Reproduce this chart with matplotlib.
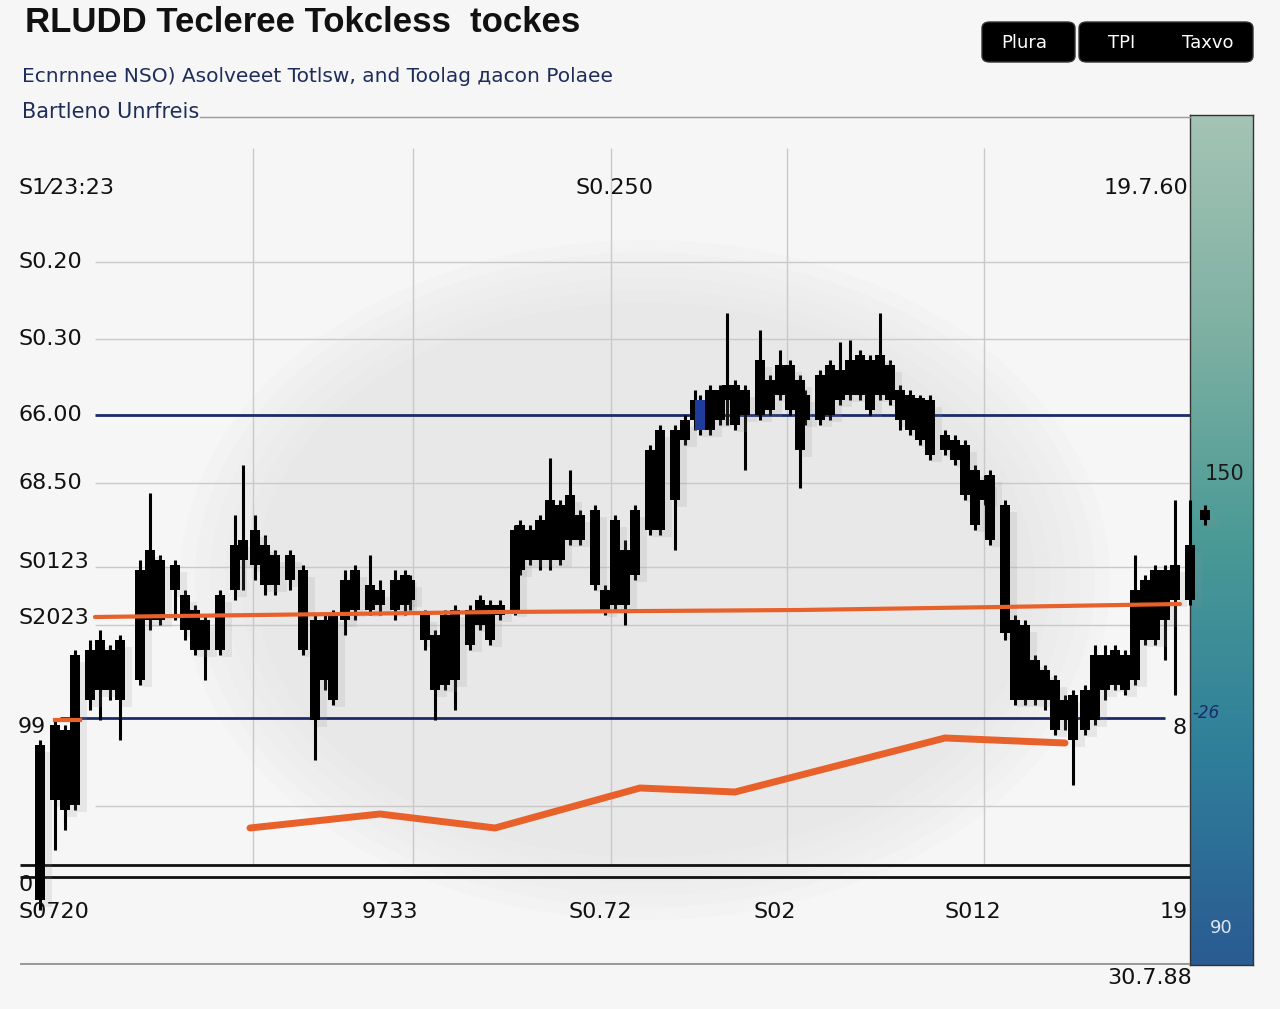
import matplotlib

matplotlib.use("Agg")

import matplotlib.pyplot as plt
import matplotlib.patheffects as pe
import numpy as np
from matplotlib.patches import Ellipse, FancyBboxPatch

# candle data: time, open, close, high, low
t = [4.0, 5.5, 6.5, 7.5, 9.0, 10.0, 11.0, 12.0, 14.0, 15.0, 16.0, 17.5, 18.5, 19.5, 20.5,
     22.0, 23.5, 24.3, 25.5, 26.5, 27.5, 29.0, 30.3, 31.5, 32.5, 33.3, 34.5, 35.5, 37.0, 38.0,
     39.5, 40.5, 41.0, 42.5, 43.5, 44.5, 45.5, 47.0, 48.0, 49.0, 50.0, 51.5, 52.0, 53.0, 54.0,
     55.0, 56.0, 57.0, 58.0, 59.5, 60.5, 61.5, 62.5, 63.5, 65.0, 66.0, 67.5, 68.5, 69.5, 70.0,
     71.0, 72.0, 72.7, 73.5, 74.5, 76.0, 77.0, 78.0, 79.0, 80.0, 80.5, 82.0, 83.0, 84.0, 85.0,
     86.0, 87.0, 88.0, 89.0, 90.0, 91.0, 92.0, 93.0, 94.5, 95.5, 96.5, 97.5, 98.5, 99.0, 100.5,
     101.5, 102.5, 103.5, 104.5, 105.5, 106.5, 107.3, 108.5, 109.5, 110.5, 111.5, 112.5, 113.5,
     114.5, 115.5, 116.5, 117.5, 119.0, 120.5]
o = [25.5, 27.5, 27.0, 19.5, 30.0, 31.0, 31.0, 30.0, 32.0, 38.0, 38.0, 41.0, 40.5, 39.0, 38.0,
     35.0, 41.0, 44.0, 47.0, 45.5, 44.5, 44.5, 43.0, 38.0, 38.0, 38.5, 38.0, 39.0, 41.5, 41.0,
     39.0, 42.5, 40.0, 38.5, 36.5, 31.5, 32.0, 39.0, 37.5, 39.5, 38.5, 39.0, 43.0, 44.0, 44.0,
     44.0, 49.5, 46.0, 48.5, 49.0, 41.0, 39.5, 39.5, 42.5, 47.0, 47.0, 50.0, 56.0, 58.0, 57.0,
     61.0, 58.0, 60.0, 61.5, 61.0, 58.5, 62.0, 60.5, 63.5, 62.0, 60.5, 58.0, 58.5, 60.0, 64.0,
     60.5, 64.0, 60.5, 63.5, 61.0, 60.5, 60.2, 60.0, 56.5, 56.0, 55.5, 53.0, 52.0, 52.5, 49.5,
     38.0, 37.5, 34.0, 33.0, 32.0, 30.0, 30.5, 27.0, 28.0, 31.0, 31.5, 34.5, 32.0,
     36.0, 36.0, 38.0, 40.0, 40.0, 48.0]
c = [10.0, 20.0, 19.0, 34.5, 35.0, 36.0, 35.0, 36.0, 43.0, 45.0, 44.0, 43.5, 37.0, 35.0, 35.0,
     40.5, 45.5, 46.0, 43.5, 41.5, 41.5, 42.0, 35.0, 28.0, 32.0, 30.0, 42.0, 43.0, 39.0, 39.5,
     42.0, 39.5, 42.0, 36.0, 31.0, 38.5, 39.0, 35.5, 40.0, 36.0, 39.5, 47.0, 47.5, 47.0, 48.0,
     50.0, 44.0, 50.5, 46.0, 41.5, 39.0, 48.0, 45.0, 49.0, 55.0, 57.0, 57.0, 58.0, 60.0, 60.0,
     57.0, 61.0, 61.5, 57.5, 58.5, 64.0, 59.0, 63.5, 59.0, 55.0, 58.0, 62.5, 63.5, 63.0, 60.5,
     64.5, 59.0, 64.5, 60.0, 58.0, 57.0, 56.0, 54.5, 55.0, 54.0, 50.5, 47.5, 50.0, 46.0, 36.7,
     30.0, 30.0, 30.0, 30.0, 27.0, 28.0, 26.0, 31.0, 34.5, 34.5, 35.0, 31.0, 41.0,
     42.0, 43.0, 43.0, 43.5, 45.5, 49.0]
h = [26.0, 28.0, 27.5, 35.0, 36.0, 37.0, 35.5, 36.5, 44.0, 50.7, 44.5, 44.0, 41.0, 39.5, 38.5,
     41.0, 48.5, 53.5, 48.5, 46.5, 45.0, 45.0, 43.5, 38.5, 38.5, 39.0, 43.0, 43.5, 44.5, 42.0,
     43.0, 43.0, 42.5, 39.0, 37.0, 39.0, 39.5, 39.5, 40.5, 40.0, 40.0, 47.5, 48.0, 47.5, 48.5,
     54.2, 50.0, 53.0, 49.0, 49.5, 41.5, 48.5, 46.0, 49.5, 55.5, 57.5, 57.5, 58.5, 61.0, 60.5,
     61.5, 61.5, 68.7, 62.0, 61.5, 67.0, 62.5, 65.0, 64.0, 62.5, 61.0, 63.0, 64.0, 65.8, 66.0,
     65.0, 64.5, 68.7, 64.0, 61.5, 61.0, 60.5, 60.5, 57.0, 56.5, 56.0, 53.5, 52.5, 53.0, 50.0,
     38.5, 38.0, 34.5, 33.5, 32.5, 30.5, 31.0, 31.5, 35.5, 35.5, 35.5, 35.0, 44.5,
     42.5, 43.5, 43.5, 50.0, 50.0, 49.5]
l = [9.0, 15.0, 17.0, 19.0, 29.0, 28.0, 30.0, 26.0, 31.5, 37.0, 37.5, 38.0, 36.0, 34.5, 32.0,
     34.5, 40.0, 41.0, 42.0, 40.5, 40.5, 41.0, 34.5, 24.0, 31.0, 29.5, 36.5, 38.0, 38.5, 38.5,
     38.0, 38.5, 39.0, 35.0, 28.0, 31.0, 29.0, 35.0, 37.0, 35.5, 38.0, 38.5, 42.5, 43.5, 43.0,
     43.0, 43.5, 45.5, 45.5, 41.0, 38.5, 39.0, 37.5, 42.0, 46.5, 46.5, 45.0, 55.5, 57.0, 56.5,
     56.5, 57.5, 57.5, 57.0, 53.0, 58.0, 58.5, 60.0, 58.5, 51.2, 57.5, 57.5, 58.0, 59.5, 60.0,
     60.0, 58.5, 60.0, 59.5, 57.0, 56.5, 55.5, 54.0, 54.5, 53.5, 50.0, 47.0, 49.5, 45.5, 36.0,
     29.5, 29.5, 29.5, 29.0, 26.5, 27.0, 21.5, 26.5, 27.5, 30.0, 31.0, 30.5, 31.5,
     35.5, 35.5, 34.0, 30.5, 39.5, 47.5]
blue_candle = 59

# overlay lines
upper_t = [9.5, 50.0, 80.0, 100.0, 118.0]
upper_p = [38.3, 38.8, 39.0, 39.3, 39.6]
short_t = [5.5, 8.0]
short_p = [28.0, 28.0]
lower_t = [25.0, 38.0, 49.5, 64.0, 73.5, 94.5, 106.5]
lower_p = [17.2, 18.6, 17.2, 21.2, 20.8, 26.2, 25.7]

grid_p = [73.8, 66.1, 51.7, 43.3, 37.5, 19.4]
navy_p = [58.5, 28.2]
black_p = [13.5, 12.3]
vgrid_t = [25.3, 41.3, 61.1, 78.7, 98.4]

left_labels = [("S1⁄23:23", 81.2), ("S0.20", 73.8), ("S0.30", 66.1), ("66.00", 58.5),
               ("68.50", 51.7), ("S0123", 43.8), ("S2023", 38.2), ("99", 27.3),
               ("0", 11.5), ("S0720", 8.8)]
bottom_labels = [("9733", 39.0), ("S0.72", 60.0), ("S02", 77.5), ("S012", 97.3)]

W, H = 1280, 1009
ORANGE = "#e8602a"
NAVY = "#1c2a6b"


def fx(px):
    return px / W


def fy(py):
    return 1 - py / H


fig = plt.figure(figsize=(W / 100, H / 100), dpi=100)
fig.patch.set_facecolor("#f6f6f6")

ax = fig.add_axes([fx(20), fy(965), fx(1190) - fx(20), fy(148) - fy(965)])
ax.set_facecolor("none")
ax.set_xlim(2.0, 119.0)
ax.set_ylim(3.5, 85.2)
ax.axis("off")
ax.set_zorder(3)

# soft grey blob behind the chart
for k in range(6):
    ax.add_patch(Ellipse((64.5, 42.0), 93 - k * 3, 68 - k * 2.5, facecolor="#dcdcdc",
                         edgecolor="none", alpha=0.09, zorder=0))

ax.hlines(grid_p, 9.5, 119.0, color="#c9c9c9", lw=1.0, zorder=1)
ax.vlines(vgrid_t, 13.5, 85.2, color="#c9c9c9", lw=1.0, zorder=1)
ax.hlines(navy_p[0], 9.5, 119.0, color=NAVY, lw=2.0, zorder=2)
ax.hlines(navy_p[1], 6.0, 116.5, color=NAVY, lw=2.0, zorder=2)
ax.hlines(black_p, 2.0, 119.0, color="#111111", lw=2.0, zorder=2)
ax.hlines(3.6, 2.0, 119.0, color="#9a9a9a", lw=1.5, zorder=2)

shadow = [pe.SimplePatchShadow(offset=(5, -5), shadow_rgbFace="#909090", alpha=0.15), pe.Normal()]
ax.vlines(t, l, h, color="black", lw=2.2, zorder=4, clip_on=False)
colors = ["black"] * len(t)
colors[blue_candle] = "#1e3c9c"
bodies = ax.bar(t, np.array(c) - np.array(o), bottom=o, width=0.95, color=colors,
                zorder=5, clip_on=False)
for b in bodies:
    b.set_path_effects(shadow)

ax.plot(upper_t, upper_p, color=ORANGE, lw=3, zorder=6, solid_capstyle="round")
ax.plot(short_t, short_p, color=ORANGE, lw=3, zorder=6)
ax.plot(lower_t, lower_p, color=ORANGE, lw=5, zorder=6, solid_capstyle="round")

lab = dict(fontsize=16, color="#111111", va="center", zorder=8)
for txt, p in left_labels:
    ax.text(1.8, p, txt, ha="left", clip_on=False, **lab)
for txt, tt in bottom_labels:
    ax.text(tt, 8.8, txt, ha="center", **lab)
ax.text(118.8, 8.8, "19", ha="right", **lab)
ax.text(61.4, 81.2, "S0.250", ha="center", **lab)
ax.text(118.8, 81.2, "19.7.60", ha="right", **lab)
ax.text(115.0, 2.2, "30.7.88", ha="center", clip_on=False, **lab)
ax.text(118.0, 27.2, "8", ha="center", **lab)

# colour bar on the right
cax = fig.add_axes([fx(1190), fy(965), fx(1253) - fx(1190), fy(115) - fy(965)])
cax.set_zorder(1)
grad = np.linspace(0, 1, 256).reshape(-1, 1)
cmap = matplotlib.colors.LinearSegmentedColormap.from_list(
    "cb", ["#2a5b92", "#2f7f9b", "#4a9a96", "#7fb1a3", "#a4c4b5"])
cax.imshow(grad, aspect="auto", cmap=cmap, origin="lower", extent=(0, 1, 0, 1))
cax.set_xticks([])
cax.set_yticks([])
for s in cax.spines.values():
    s.set_color("#333333")
    s.set_linewidth(1.0)
cax.text(0.55, 0.578, "150", ha="center", va="center", fontsize=15, color="#1a1a1a")
cax.text(0.25, 0.297, "-26", ha="center", va="center", fontsize=12, color=NAVY, style="italic")
cax.text(0.5, 0.043, "90", ha="center", va="center", fontsize=13, color="#dfe6ef")

# header
fig.text(fx(25), fy(23), "RLUDD Teclerее Tokcless  tockes", fontsize=25, fontweight="bold",
         color="#111111", va="center", family="Liberation Sans")
fig.text(fx(22), fy(77), "Ecnrnnee NSO) Asolveeet Totlsw, and Toolag дacon Polaee",
         fontsize=14.5, color="#1f2d5a", va="center")
fig.text(fx(22), fy(112), "Bartleno Unrfreis", fontsize=15, color="#1f2d5a", va="center")
fig.add_artist(plt.Line2D([fx(200), fx(1190)], [fy(117), fy(117)], color="#9a9a9a", lw=1.0))

for x0, x1 in [(982, 1075), (1079, 1253)]:
    fig.add_artist(FancyBboxPatch((fx(x0), fy(62)), fx(x1) - fx(x0), fy(22) - fy(62),
                                  boxstyle="round,pad=0,rounding_size=0.006",
                                  transform=fig.transFigure, facecolor="black",
                                  edgecolor="#333333"))
for txt, px in [("Plura", 1024), ("TPI", 1122), ("Taxvo", 1208)]:
    fig.text(fx(px), fy(43), txt, fontsize=13, color="white", ha="center", va="center")

fig.savefig("out.png", dpi=100, facecolor=fig.get_facecolor())
